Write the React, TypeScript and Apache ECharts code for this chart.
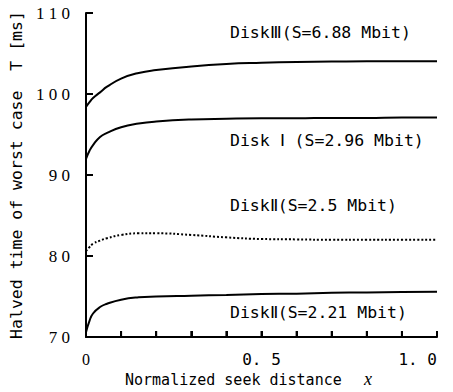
import React, { useEffect, useRef } from "react";
import * as echarts from "echarts";

const xs = [0, 0.01, 0.02, 0.04, 0.06, 0.1, 0.15, 0.2, 0.3, 0.4, 0.5, 0.6, 0.7, 0.8, 0.9, 1.0];
const disk3 = [98.4, 99.0, 99.5, 100.2, 100.9, 101.9, 102.6, 102.95, 103.4, 103.7, 103.85, 103.95, 104.0, 104.05, 104.05, 104.05];
const disk1 = [92.0, 93.0, 93.7, 94.7, 95.2, 95.9, 96.35, 96.6, 96.85, 96.95, 97.0, 97.0, 97.05, 97.05, 97.1, 97.1];
const disk2b = [80.6, 81.1, 81.5, 81.9, 82.2, 82.6, 82.8, 82.8, 82.6, 82.3, 82.1, 82.05, 82.0, 82.0, 82.0, 82.0];
const disk2a = [70.6, 72.0, 72.9, 73.7, 74.1, 74.6, 74.9, 75.0, 75.1, 75.2, 75.3, 75.35, 75.45, 75.5, 75.55, 75.6];

const xTicks = [0, 0.1, 0.2, 0.3, 0.4, 0.5, 0.6, 0.7, 0.8, 0.9, 1.0];
const yTicks = [70, 80, 90, 100, 110];

const labels = [
  "DiskⅢ(S=6.88 Mbit)",
  "Disk Ⅰ (S=2.96 Mbit)",
  "DiskⅡ(S=2.5 Mbit)",
  "DiskⅡ(S=2.21 Mbit)",
];
const yAxisName = "Halved time of worst case  T [ms]";
const xAxisName = "Normalized seek distance";

const MONO = "DejaVu Sans Mono";
const SERIF = "Liberation Serif";

export default function App() {
  const ref = useRef<HTMLDivElement>(null);
  useEffect(() => {
    if (!ref.current) return;
    const chart = echarts.init(ref.current, null, { renderer: "svg" });
    const mk = (ys: number[]) => xs.map((x, i) => [x, ys[i]]);
    const lineSeries = (ys: number[], type: string) => ({
      type: "line",
      data: mk(ys),
      smooth: 0.5,
      showSymbol: false,
      lineStyle: { color: "#000", width: 2, type },
    });
    const textEls: any[] = [
      { type: "text", left: 230, top: 24, style: { text: labels[0], fontFamily: MONO, fontSize: 16.5, fill: "#000" } },
      { type: "text", left: 230, top: 132, style: { text: labels[1], fontFamily: MONO, fontSize: 16.5, fill: "#000" } },
      { type: "text", left: 230, top: 197, style: { text: labels[2], fontFamily: MONO, fontSize: 16.5, fill: "#000" } },
      { type: "text", left: 230, top: 304, style: { text: labels[3], fontFamily: MONO, fontSize: 16.5, fill: "#000" } },
      { type: "text", left: 125, top: 372, style: { text: xAxisName, fontFamily: MONO, fontSize: 15, fill: "#000" } },
      { type: "text", left: 364, top: 370, style: { text: "x", fontFamily: SERIF, fontStyle: "italic", fontSize: 18, fill: "#000" } },
    ];
    chart.setOption({
      animation: false,
      backgroundColor: "#fff",
      grid: { left: 86, right: 16, top: 13, bottom: 55 },
      xAxis: {
        type: "value",
        min: 0,
        max: 1,
        interval: 0.1,
        axisLine: { show: true, lineStyle: { color: "#000", width: 2 } },
        axisTick: { show: true, inside: true, length: 6, lineStyle: { color: "#000", width: 2 } },
        splitLine: { show: false },
        axisLabel: {
          margin: 14,
          alignMaxLabel: "right",
          formatter: (v: number) => {
            if (Math.abs(v) < 1e-6) return "{s|0}";
            if (Math.abs(v - 0.5) < 1e-6) return "{m|0.\u00A05}";
            if (Math.abs(v - 1) < 1e-6) return "{m|1.\u00A00}";
            return "";
          },
          rich: {
            s: { fontFamily: SERIF, fontSize: 16, color: "#000" },
            m: { fontFamily: MONO, fontSize: 16, color: "#000" },
          },
        },
      },
      yAxis: {
        type: "value",
        min: 70,
        max: 110,
        interval: 10,
        name: yAxisName,
        nameLocation: "middle",
        nameGap: 60,
        nameTextStyle: { fontFamily: MONO, fontSize: 16.5, color: "#000" },
        axisLine: { show: true, lineStyle: { color: "#000", width: 2 } },
        axisTick: { show: true, inside: true, length: 7, lineStyle: { color: "#000", width: 2 } },
        splitLine: { show: false },
        axisLabel: {
          margin: 16,
          fontFamily: SERIF,
          fontSize: 17,
          color: "#000",
          formatter: (v: number) => String(v).split("").join("\u00A0"),
        },
      },
      graphic: textEls,
      series: [
        lineSeries(disk3, "solid"),
        lineSeries(disk1, "solid"),
        lineSeries(disk2b, "dotted"),
        lineSeries(disk2a, "solid"),
      ],
    });
    // tick marks as small filled rects placed through the chart's own scales
    const tickEls: any[] = [];
    xTicks.forEach((x) => {
      const p = chart.convertToPixel({ gridIndex: 0 }, [x, yTicks[0]]) as number[];
      if (p) tickEls.push({ type: "rect", shape: { x: p[0] - 1, y: p[1] - 6, width: 2, height: 6 }, style: { fill: "#000" }, z: 100 });
    });
    yTicks.forEach((y) => {
      const p = chart.convertToPixel({ gridIndex: 0 }, [xTicks[0], y]) as number[];
      if (p) tickEls.push({ type: "rect", shape: { x: p[0], y: p[1] - 1, width: 7, height: 2 }, style: { fill: "#000" }, z: 100 });
    });
    chart.setOption({ graphic: [...textEls, ...tickEls] });
    return () => chart.dispose();
  }, []);
  return (
    <div
      ref={ref}
      style={{ position: "fixed", left: 0, top: 0, width: 453, height: 392 }}
    />
  );
}
